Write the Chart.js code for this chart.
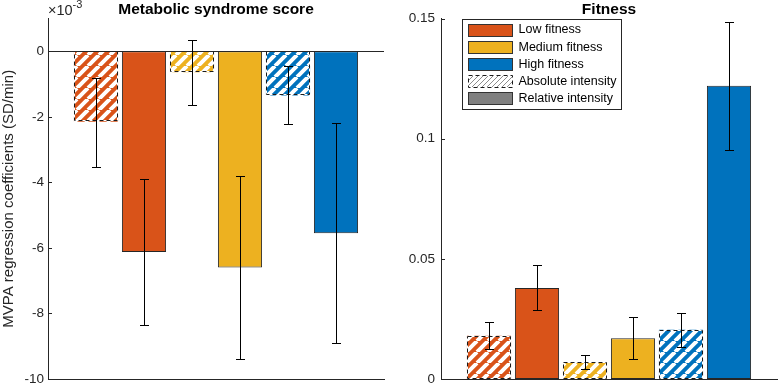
<!DOCTYPE html>
<html>
<head>
<meta charset="utf-8">
<script src="https://cdn.jsdelivr.net/npm/chart.js@4.4.1/dist/chart.umd.min.js"></script>
<style>
  html, body { margin: 0; padding: 0; background: #fff; }
  #wrap { position: relative; width: 778px; height: 385px; }
  #c1 { position: absolute; left: 0; top: 0; }
  #c2 { position: absolute; left: 389px; top: 0; }
</style>
</head>
<body>
<div id="wrap">
  <canvas id="c1" width="389" height="385"></canvas>
  <canvas id="c2" width="389" height="385"></canvas>
</div>
<script>
// bars, left to right
const groups = ["Low fitness", "Low fitness", "Medium fitness", "Medium fitness", "High fitness", "High fitness"]
const intensity = ["Absolute", "Relative", "Absolute", "Relative", "Absolute", "Relative"]

// metabolic syndrome score (x 1e-3)
const metsValues = [-2.15, -6.12, -0.64, -6.6, -1.35, -5.55]
const metsLow = [-3.53, -8.34, -1.63, -9.39, -2.23, -8.89]
const metsHigh = [-0.8, -3.9, 0.36, -3.81, -0.46, -2.2]
const metsTicks = [-10, -8, -6, -4, -2, 0]

// fitness
const fitValues = [0.018, 0.0379, 0.0069, 0.017, 0.0205, 0.1221]
const fitLow = [0.0124, 0.0286, 0.004, 0.0082, 0.0132, 0.0954]
const fitHigh = [0.0239, 0.0474, 0.0100, 0.0258, 0.0276, 0.1486]
const fitTicks = [0, 0.05, 0.1, 0.15]

const legendLabels = ["Low fitness", "Medium fitness", "High fitness", "Absolute intensity", "Relative intensity"]

const colors = {"Low fitness": "#D95319", "Medium fitness": "#EDB120", "High fitness": "#0072BD"}
const FONT = "'Liberation Sans', Arial, Helvetica, sans-serif"
const AXIS = "#262626"

function hatch(fg, bg, size, lw){
  const c = document.createElement("canvas")
  c.width = c.height = size
  const g = c.getContext("2d")
  g.fillStyle = bg
  g.fillRect(0, 0, size, size)
  g.strokeStyle = fg
  g.lineWidth = lw
  g.beginPath()
  for (let k = -1; k <= 1; k++){
    g.moveTo(k*size, size)
    g.lineTo(k*size + size, 0)
  }
  g.stroke()
  return g.createPattern(c, "repeat")
}

const patterns = {}
for (let k in colors) patterns[k] = hatch("#ffffff", colors[k], 11, 4)
const legendHatch = hatch("#8c8c8c", "#ffffff", 5, 1)

function dashedRect(ctx, x, y, w, h){
  ctx.save()
  ctx.lineWidth = 1
  ctx.strokeStyle = "#ffffff"
  ctx.setLineDash([])
  ctx.strokeRect(x, y, w, h)
  ctx.strokeStyle = "#1a1a1a"
  ctx.setLineDash([4, 3])
  ctx.strokeRect(x, y, w, h)
  ctx.restore()
}

function extras(low, high, ticks, showLegend, exponent){
  return {
    id: "extras",
    afterDatasetsDraw(chart){
      const ctx = chart.ctx
      const area = chart.chartArea
      const ys = chart.scales.y
      const meta = chart.getDatasetMeta(0)

      // dashed edge on hatched bars
      for (let i = 0; i < groups.length; i++){
        if (intensity[i] != "Absolute") continue
        const bar = meta.data[i+1]
        const top = Math.min(bar.y, bar.base), bot = Math.max(bar.y, bar.base)
        dashedRect(ctx, Math.round(bar.x - bar.width/2) + 0.5, Math.round(top) + 0.5,
          Math.round(bar.width) - 1, Math.round(bot - top) - 1)
      }

      ctx.save()
      ctx.strokeStyle = AXIS
      ctx.lineWidth = 1
      // baseline at zero
      const y0 = Math.round(ys.getPixelForValue(0)) + 0.5
      ctx.beginPath()
      ctx.moveTo(area.left, y0)
      ctx.lineTo(area.right, y0)
      ctx.stroke()

      // inward ticks
      ctx.beginPath()
      for (let v of ticks){
        const ty = Math.round(ys.getPixelForValue(v)) + 0.5
        ctx.moveTo(area.left, ty)
        ctx.lineTo(area.left + 4, ty)
      }
      ctx.stroke()

      // error bars
      ctx.strokeStyle = "#000"
      for (let i = 0; i < groups.length; i++){
        const x = Math.round(meta.data[i+1].x) + 0.5
        const yl = Math.round(ys.getPixelForValue(low[i])) + 0.5
        const yh = Math.round(ys.getPixelForValue(high[i])) + 0.5
        ctx.beginPath()
        ctx.moveTo(x, yl); ctx.lineTo(x, yh)
        ctx.moveTo(x - 4.5, yl); ctx.lineTo(x + 4.5, yl)
        ctx.moveTo(x - 4.5, yh); ctx.lineTo(x + 4.5, yh)
        ctx.stroke()
      }

      if (exponent){
        ctx.fillStyle = AXIS
        ctx.textBaseline = "alphabetic"
        ctx.textAlign = "left"
        ctx.font = "14.5px " + FONT
        ctx.fillText("\u00d710", area.left, 15)
        const w = ctx.measureText("\u00d710").width
        ctx.font = "11px " + FONT
        ctx.fillText("-3", area.left + w, 8)
      }

      if (showLegend){
        const lx = area.left + 21.5, ly = Math.round(area.top) + 0.5
        ctx.fillStyle = "#fff"
        ctx.fillRect(lx, ly, 159, 90)
        ctx.strokeStyle = AXIS
        ctx.strokeRect(lx, ly, 159, 90)
        ctx.font = "12.5px " + FONT
        ctx.textBaseline = "middle"
        ctx.textAlign = "left"
        for (let i = 0; i < legendLabels.length; i++){
          const cy = ly + 10 + i*17.2
          const px = lx + 6, py = Math.round(cy - 6) + 0.5
          const lab = legendLabels[i]
          if (colors[lab]){
            ctx.fillStyle = colors[lab]
            ctx.fillRect(px, py, 44, 12)
            ctx.strokeStyle = "#333"
            ctx.strokeRect(px, py, 44, 12)
          } else if (lab == "Absolute intensity"){
            ctx.fillStyle = legendHatch
            ctx.fillRect(px, py, 44, 12)
            dashedRect(ctx, px, py, 44, 12)
          } else {
            ctx.fillStyle = "#808080"
            ctx.fillRect(px, py, 44, 12)
            ctx.strokeStyle = "#333"
            ctx.strokeRect(px, py, 44, 12)
          }
          ctx.fillStyle = "#000"
          ctx.fillText(lab, lx + 56, cy + 0.5)
        }
      }
      ctx.restore()
    }
  }
}

function makeChart(id, values, low, high, ticks, min, max, title, yTitle, axisWidth, padRight, showLegend, exponent){
  const labels = ["", ...groups.map((g, i) => g + " (" + intensity[i] + ")"), ""]
  return new Chart(document.getElementById(id), {
    type: "bar",
    data: {
      labels: labels,
      datasets: [{
        data: [null, ...values, null],
        backgroundColor: c => {
          const i = c.dataIndex - 1
          if (i < 0 || i >= groups.length) return "#fff"
          return intensity[i] == "Absolute" ? patterns[groups[i]] : colors[groups[i]]
        },
        borderColor: "rgba(0,0,0,0.85)",
        borderWidth: c => intensity[c.dataIndex - 1] == "Absolute" ? 0 : 1,
        borderSkipped: false,
        barPercentage: 0.92,
        categoryPercentage: 1
      }]
    },
    options: {
      responsive: false,
      animation: false,
      layout: {padding: {left: 0, right: padRight, top: 0, bottom: 6}},
      plugins: {
        legend: {display: false},
        tooltip: {enabled: false},
        title: {
          display: true,
          text: title,
          fullSize: false,
          color: "#000",
          font: {family: FONT, size: 15.5, weight: "bold"},
          padding: {top: 0, bottom: 0}
        }
      },
      scales: {
        x: {
          type: "category",
          offset: false,
          grid: {display: false, drawTicks: false},
          ticks: {display: false},
          border: {display: true, color: AXIS},
          afterFit: s => { s.height = 0; s.paddingLeft = 0; s.paddingRight = 0 }
        },
        y: {
          type: "linear",
          min: min,
          max: max,
          grid: {display: false, drawTicks: false},
          border: {display: true, color: AXIS},
          afterBuildTicks: s => { s.ticks = ticks.map(v => ({value: v})) },
          ticks: {
            color: AXIS,
            padding: showLegend ? 6 : 4,
            font: {family: FONT, size: 13.5},
            callback: v => String(v)
          },
          title: {
            display: !!yTitle,
            text: yTitle,
            color: AXIS,
            font: {family: FONT, size: 15},
            padding: {top: 0, bottom: 0}
          },
          afterFit: s => { s.width = axisWidth; s.paddingTop = 0; s.paddingBottom = 0 }
        }
      }
    },
    plugins: [extras(low, high, ticks, showLegend, exponent)]
  })
}

makeChart("c1", metsValues, metsLow, metsHigh, metsTicks, -10, 1, "Metabolic syndrome score",
  "MVPA regression coefficients (SD/min)", 48, 5, false, true)
makeChart("c2", fitValues, fitLow, fitHigh, fitTicks, 0, 0.15, "Fitness",
  "", 52, 1, true, false)
</script>
</body>
</html>
